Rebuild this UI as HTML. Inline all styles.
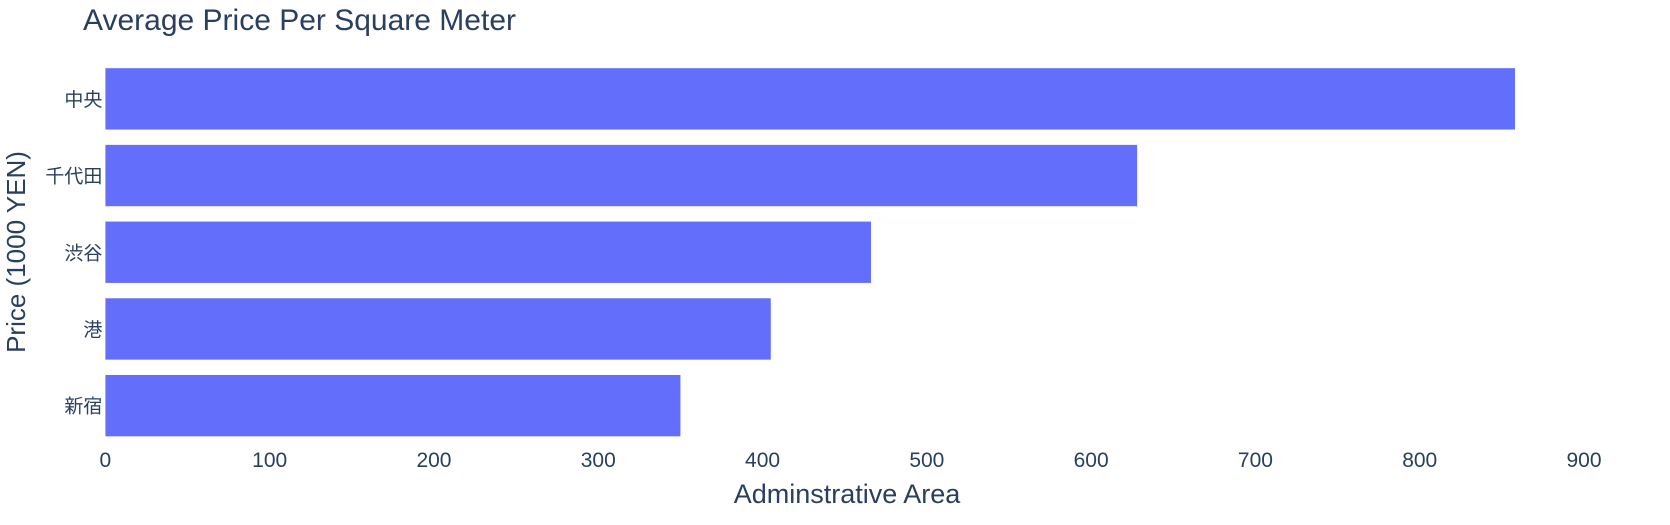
<!DOCTYPE html>
<html><head><meta charset="utf-8"><style>
html,body{margin:0;padding:0;background:#fff;}
svg{display:block;font-family:"Liberation Sans","Noto Sans CJK JP",sans-serif;}
</style></head><body>
<svg id="chart" width="1670" height="525"></svg>
<script>
const categories = ["中央","千代田","渋谷","港","新宿"];
const values = [858, 628, 466, 405, 350];
const xTicks = [0,100,200,300,400,500,600,700,800,900];
const NS="http://www.w3.org/2000/svg";
const svg=document.getElementById('chart');
const x0=105.4, x1=1584, xMax=900, yTop=60.5, yBot=444;
const xScale=v=>x0+(v/xMax)*(x1-x0);
const band=(yBot-yTop)/categories.length;
const yScale=i=>yTop+band*i;
function mk(tag,attrs,text){const e=document.createElementNS(NS,tag);for(const k in attrs)e.setAttribute(k,attrs[k]);if(text!==undefined)e.textContent=text;svg.appendChild(e);return e;}
const t=mk('text',{x:83,y:30,'font-size':30,fill:'#2a3f5f'},'Average Price Per Square Meter');


categories.forEach((c,i)=>{
  const y=yScale(i)+band*0.1;
  const r=mk('rect',{x:x0,y:y,width:xScale(values[i])-x0,height:band*0.8,fill:'#636efa'});
  
  
  const l=mk('text',{x:x0-3,y:yScale(i)+band/2+7,'font-size':19,fill:'#2a3f5f','text-anchor':'end'},c);
  
  
});
xTicks.forEach(v=>{
  const l=mk('text',{x:xScale(v),y:467,'font-size':21,fill:'#2a3f5f','text-anchor':'middle'},String(v));
  
  
});
const xt=mk('text',{x:847,y:503,'font-size':27,fill:'#2a3f5f','text-anchor':'middle'},'Adminstrative Area');


const yt=mk('text',{x:0,y:0,'font-size':26,fill:'#2a3f5f','text-anchor':'middle',transform:'translate(25,252) rotate(-90)'},'Price (1000 YEN)');


</script>
</body></html>
